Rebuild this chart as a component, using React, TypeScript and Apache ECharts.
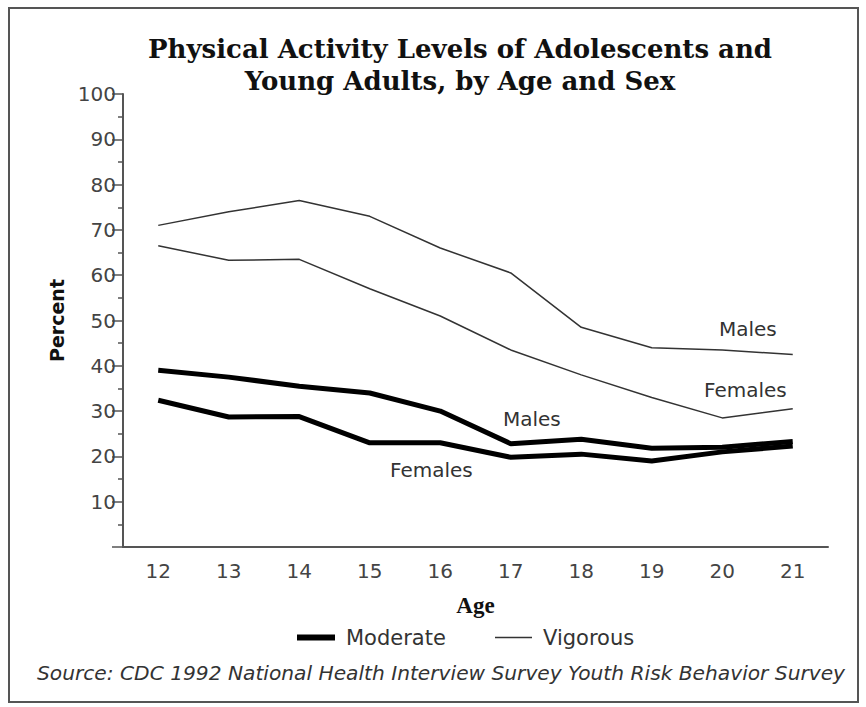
import React, { useEffect, useRef } from "react";
import * as echarts from "echarts";

const ages = ["12", "13", "14", "15", "16", "17", "18", "19", "20", "21"];
const vigorousMales = [71, 74, 76.5, 73, 66, 60.5, 48.5, 44, 43.5, 42.5];
const vigorousFemales = [66.5, 63.3, 63.5, 57, 51, 43.5, 38, 33, 28.5, 30.5];
const moderateMales = [39, 37.5, 35.5, 34, 30, 22.8, 23.8, 21.8, 22, 23.3];
const moderateFemales = [32.4, 28.7, 28.8, 23, 23, 19.8, 20.5, 19, 21, 22.3];

const titleText = "Physical Activity Levels of Adolescents and\nYoung Adults, by Age and Sex";
const sourceText = "Source: CDC 1992 National Health Interview Survey Youth Risk Behavior Survey";

const SANS = "'DejaVu Sans', sans-serif";
const SERIF = "'DejaVu Serif', serif";
const SERIF2 = "'Liberation Serif', serif";

export default function App() {
  const ref = useRef<HTMLDivElement>(null);
  useEffect(() => {
    if (!ref.current) return;
    const chart = echarts.init(ref.current, null, { renderer: "svg" });
    const annotation = (text: string, x: number, y: number) => ({
      type: "text",
      left: x,
      top: y,
      style: { text, fill: "#333", font: `20px ${SANS}` },
    });
    chart.setOption({
      animation: false,
      backgroundColor: "#fff",
      title: {
        text: titleText,
        left: 455,
        top: 28,
        textAlign: "center",
        textStyle: {
          fontFamily: SERIF,
          fontWeight: "bold",
          fontSize: 26,
          lineHeight: 32,
          color: "#111",
        },
      },
      grid: { left: 123, right: 38, top: 94, bottom: 160, containLabel: false },
      xAxis: {
        type: "category",
        data: ages,
        boundaryGap: true,
        name: "Age",
        nameLocation: "middle",
        nameGap: 47,
        nameTextStyle: { fontFamily: SERIF2, fontWeight: "bold", fontSize: 23, color: "#111" },
        axisLine: { lineStyle: { color: "#555", width: 2 } },
        axisTick: { alignWithLabel: true, length: 11, lineStyle: { color: "#555", width: 1.5 } },
        axisLabel: { fontFamily: SANS, fontSize: 20, color: "#444", margin: 14 },
        splitLine: { show: false },
      },
      yAxis: {
        type: "value",
        min: 0,
        max: 100,
        interval: 10,
        name: "Percent",
        nameLocation: "middle",
        nameGap: 57,
        nameTextStyle: { fontFamily: SANS, fontWeight: "bold", fontSize: 19, color: "#111" },
        axisLine: { show: true, lineStyle: { color: "#555", width: 2 } },
        axisTick: { show: true, length: 11, lineStyle: { color: "#555", width: 1.5 } },
        minorTick: { show: true, splitNumber: 2, length: 5, lineStyle: { color: "#555", width: 1.5 } },
        axisLabel: {
          fontFamily: SANS,
          fontSize: 20,
          color: "#444",
          margin: 7,
          formatter: (v: number) => (v === 0 ? "" : String(v)),
        },
        splitLine: { show: false },
      },
      legend: [
        {
          data: ["Moderate"],
          left: 292,
          top: 622,
          icon: "rect",
          itemWidth: 38,
          itemHeight: 6,
          selectedMode: false,
          textStyle: { fontFamily: SANS, fontSize: 21, color: "#333", padding: [0, 0, 0, 6] },
        },
        {
          data: ["Vigorous"],
          left: 490,
          top: 622,
          icon: "rect",
          itemWidth: 37,
          itemHeight: 1.5,
          selectedMode: false,
          textStyle: { fontFamily: SANS, fontSize: 21, color: "#333", padding: [0, 0, 0, 6] },
        },
      ],
      series: [
        {
          name: "Vigorous",
          type: "line",
          data: vigorousMales,
          symbol: "none",
          color: "#333",
          lineStyle: { color: "#333", width: 1.5 },
        },
        {
          name: "Vigorous",
          type: "line",
          data: vigorousFemales,
          symbol: "none",
          color: "#333",
          lineStyle: { color: "#333", width: 1.5 },
        },
        {
          name: "Moderate",
          type: "line",
          data: moderateMales,
          symbol: "none",
          color: "#000",
          lineStyle: { color: "#000", width: 5 },
        },
        {
          name: "Moderate",
          type: "line",
          data: moderateFemales,
          symbol: "none",
          color: "#000",
          lineStyle: { color: "#000", width: 5 },
        },
      ],
      graphic: [
        {
          type: "rect",
          shape: { x: 9, y: 8, width: 849, height: 694 },
          style: { fill: "none", stroke: "#555", lineWidth: 2 },
          silent: true,
        },
        annotation("Males", 719, 319),
        annotation("Females", 704, 380),
        annotation("Males", 503, 409),
        annotation("Females", 390, 460),
        {
          type: "text",
          left: 37,
          top: 663,
          style: { text: sourceText, fill: "#333", font: `italic 20.2px ${SANS}` },
        },
      ],
    });
    return () => chart.dispose();
  }, []);
  return (
    <div
      ref={ref}
      style={{ position: "absolute", left: 0, top: 0, width: 866, height: 707 }}
    />
  );
}
